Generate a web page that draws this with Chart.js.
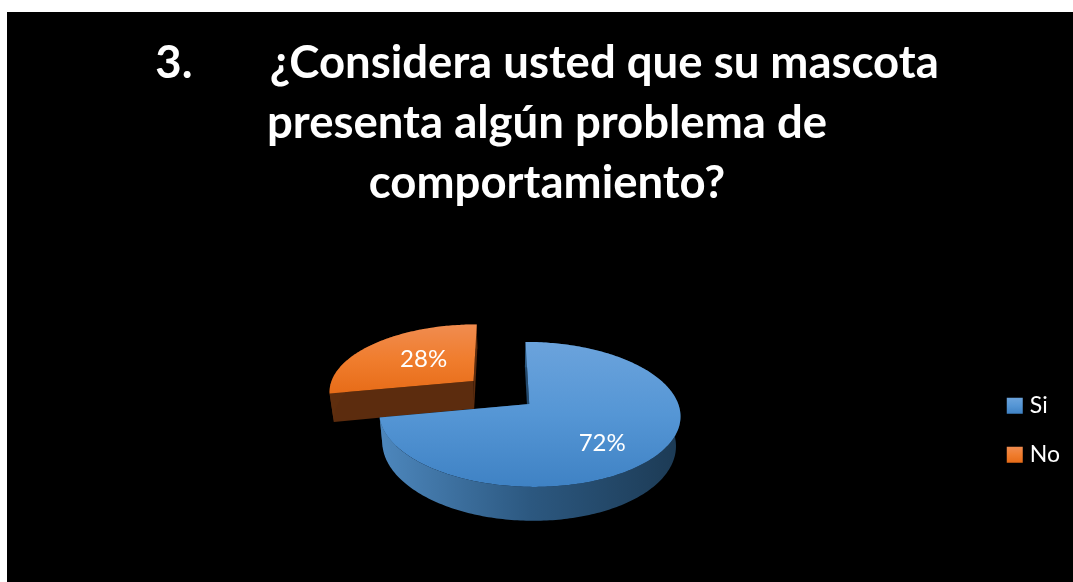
<!DOCTYPE html>
<html lang="es">
<head>
<meta charset="utf-8">
<title>Comportamiento de la mascota</title>
<script src="https://cdn.jsdelivr.net/npm/chart.js@4"></script>
<style>
    html, body { margin: 0; padding: 0; background: #fff; overflow: hidden; }
    #grafico { position: absolute; left: 7px; top: 12px; background: #000; }
</style>
</head>
<body>
<canvas id="grafico" width="1066" height="570"></canvas>
<script>
const categorias = ['Si', 'No'];
const valores = [72, 28];
const tituloLineas = [
    '3.       ¿Considera usted que su mascota',
    'presenta algún problema de',
    'comportamiento?'
];

// Camera of the tilted disc, in canvas pixels (radius of the pie = 1 unit)
const camara = { vpX: 493, horY: -98, T: 490, D: 6.9, rx: 149, dx: 29.5, cu: -0.193, cv: -0.17, eu: 0.94, q: 0.975, dT: 29 };

function proyectar(u, v, abajo) {
    const s = camara.D / (camara.D - (v + camara.cv));
    const k = abajo ? camara.q : 1;
    return {
        x: camara.vpX + k * s * (camara.dx + (u + camara.cu) * camara.rx),
        y: camara.horY + s * (camara.T + (abajo ? camara.dT : 0))
    };
}

function trazar(ctx, puntos) {
    ctx.beginPath();
    puntos.forEach(function (p, i) {
        if (i === 0) ctx.moveTo(p.x, p.y); else ctx.lineTo(p.x, p.y);
    });
    ctx.closePath();
}

function degradado(ctx, x0, y0, x1, y1, stops) {
    const g = ctx.createLinearGradient(x0, y0, x1, y1);
    stops.forEach(function (s, i) { g.addColorStop(i / (stops.length - 1), s); });
    return g;
}

const estilos = [
    { arriba: ['#6ba3dc', '#5596d5', '#3f82c4'], pared: ['#4d87bd', '#2c5880', '#1c3a54'], corte: '#234a6e', ku: 0.57, kv: 0.80 },
    { arriba: ['#f08c50', '#f07d2e', '#e76c18'], pared: ['#5f2e0e', '#5c2c0e', '#5c2c0e'], corte: '#5c2c0e', ku: 0.49, kv: 0.55 }
];

const pastel3d = {
    id: 'pastel3d',
    beforeDraw(chart) {
        // legend boxes get the same light to dark fill as the slices;
        // the wide stroke brings the text closer to the visible square
        const leyenda = chart.legend;
        const ctx = chart.ctx;
        leyenda.legendItems.forEach(function (item, i) {
            const caja = leyenda.legendHitBoxes[i];
            const y = caja.top + caja.height / 2 - 8;
            const g = degradado(ctx, 0, y, 0, y + 16, estilos[i].arriba);
            item.fillStyle = g;
            item.strokeStyle = g;
            item.lineWidth = 9;
        });
    },
    beforeDatasetDraw(chart, args) {
        const ctx = chart.ctx;
        const arcos = args.meta.data;
        ctx.save();
        // back slice first
        for (let i = arcos.length - 1; i >= 0; i--) {
            const el = arcos[i];
            const medio = (el.startAngle + el.endAngle) / 2;
            const desp = (el.options.offset / 4) / el.outerRadius;
            const ou = Math.cos(medio) * desp * camara.eu;
            const ov = Math.sin(medio) * desp;
            const punto = function (ang, r, abajo) {
                return proyectar(ou + Math.cos(ang) * r, ov + Math.sin(ang) * r, abajo);
            };
            const borde = [];
            const n = Math.ceil((el.endAngle - el.startAngle) / (Math.PI / 180));
            for (let j = 0; j <= n; j++) {
                borde.push(el.startAngle + (el.endAngle - el.startAngle) * j / n);
            }
            const arcoSup = borde.map(function (a) { return punto(a, 1, false); });
            const arcoInf = borde.map(function (a) { return punto(a, 1, true); });
            const centroSup = punto(0, 0, false);
            const centroInf = punto(0, 0, true);
            const est = estilos[i];

            // cut walls
            ctx.fillStyle = est.corte;
            trazar(ctx, [centroSup, arcoSup[0], arcoInf[0], centroInf]);
            ctx.fill();
            trazar(ctx, [centroSup, arcoSup[n], arcoInf[n], centroInf]);
            ctx.fill();

            // outer wall
            const xs = arcoSup.map(function (p) { return p.x; });
            ctx.fillStyle = degradado(ctx, Math.min.apply(null, xs), 0, Math.max.apply(null, xs), 0, est.pared);
            trazar(ctx, arcoSup.concat(arcoInf.slice().reverse()));
            ctx.fill();

            // top face
            const sup = [centroSup].concat(arcoSup);
            const ys = sup.map(function (p) { return p.y; });
            ctx.fillStyle = degradado(ctx, 0, Math.min.apply(null, ys), 0, Math.max.apply(null, ys), est.arriba);
            trazar(ctx, sup);
            ctx.fill();
        }

        // value labels
        ctx.fillStyle = '#fff';
        ctx.font = '24px Lato';
        ctx.textAlign = 'center';
        ctx.textBaseline = 'middle';
        arcos.forEach(function (el, i) {
            const medio = (el.startAngle + el.endAngle) / 2;
            const desp = (el.options.offset / 4) / el.outerRadius;
            const p = proyectar(Math.cos(medio) * (desp * camara.eu + estilos[i].ku), Math.sin(medio) * (desp + estilos[i].kv), false);
            ctx.fillText(valores[i] + '%', p.x, p.y);
        });
        ctx.restore();
        return false;
    }
};

new Chart(document.getElementById('grafico'), {
    type: 'pie',
    data: {
        labels: categorias,
        datasets: [{
            data: valores,
            backgroundColor: ['#5b9bd5', '#ed7d31'],
            borderWidth: 0,
            offset: 105
        }]
    },
    plugins: [pastel3d],
    options: {
        responsive: false,
        animation: false,
        layout: { padding: { left: 17, right: 3 } },
        plugins: {
            tooltip: { enabled: false },
            title: {
                display: true,
                text: tituloLineas,
                color: '#fff',
                font: { family: 'Lato', size: 45.5, weight: 'bold', lineHeight: 1.31 },
                padding: { top: 22, bottom: 65.5 }
            },
            legend: {
                position: 'right',
                fullSize: false,
                labels: {
                    color: '#fff',
                    font: { family: 'Lato', size: 23 },
                    boxWidth: 7,
                    boxHeight: 7,
                    padding: 26
                }
            }
        }
    }
});
</script>
</body>
</html>
